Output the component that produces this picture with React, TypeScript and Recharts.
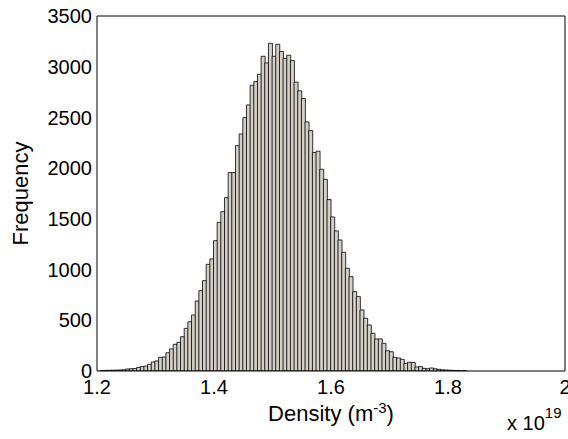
import { BarChart, Bar, XAxis, YAxis, Label } from "recharts";

// Histogram of density samples (x 1e19 m^-3), 100 bins as in MATLAB hist().
const DENSITY_MIN = 1.2051;
const BIN_WIDTH = 0.00626;

const COUNTS = [
  4, 6, 7, 8, 9, 10, 12, 20, 22, 24,
  35, 44, 48, 66, 89, 99, 135, 138, 180, 218,
  263, 283, 338, 421, 486, 552, 690, 792, 891, 1052,
  1105, 1285, 1466, 1571, 1709, 1956, 1956, 2222, 2337, 2498,
  2623, 2817, 2853, 2926, 3103, 3037, 3231, 3103, 3221, 3150,
  3083, 3113, 3060, 2848, 2762, 2686, 2456, 2370, 2153, 2167,
  1989, 1890, 1690, 1519, 1381, 1292, 1170, 1013, 930, 782,
  733, 602, 520, 454, 372, 316, 316, 273, 200, 190,
  135, 128, 115, 76, 86, 84, 40, 43, 26, 22,
  30, 22, 16, 12, 10, 8, 6, 5, 2, 4,
];

const X_TICKS = [1.2, 1.4, 1.6, 1.8, 2];
const Y_TICKS = [0, 500, 1000, 1500, 2000, 2500, 3000, 3500];

const FONT = "Arial, 'Liberation Sans', Helvetica, sans-serif";

const data = COUNTS.map((count, i) => ({
  density: DENSITY_MIN + BIN_WIDTH * (i + 0.5),
  count,
}));

function XLabel({ viewBox }: any) {
  const { x, y, width } = viewBox;
  return (
    <g fontFamily={FONT} fill="#000">
      <text x={x + width / 2} y={y + 50} textAnchor="middle" fontSize={22}>
        Density (m
        <tspan dy={-8} fontSize={15}>-3</tspan>
        <tspan dy={8}>)</tspan>
      </text>
      <text x={x + 410} y={y + 59} fontSize={20}>
        x 10
        <tspan dy={-12} fontSize={15}>19</tspan>
      </text>
    </g>
  );
}

function YLabel({ viewBox }: any) {
  const { x, y, height } = viewBox;
  const cx = x + 28;
  const cy = y + height / 2;
  return (
    <text
      x={cx}
      y={cy}
      transform={`rotate(-90 ${cx} ${cy})`}
      textAnchor="middle"
      fontSize={22}
      fontFamily={FONT}
      fill="#000"
    >
      Frequency
    </text>
  );
}

const tickStyle = { fontSize: 20, fontFamily: FONT, fill: "#000" };

export default function App() {
  return (
    <div style={{ position: "absolute", left: 0, top: 0, width: 568, height: 439, background: "#fff" }}>
      <BarChart
        width={568}
        height={439}
        data={data}
        margin={{ top: 16, right: 3, bottom: 0, left: 0 }}
        barCategoryGap={0}
        barGap={0}
      >
        <XAxis
          dataKey="density"
          type="number"
          domain={[1.2, 2]}
          ticks={X_TICKS}
          allowDataOverflow
          height={68}
          tickSize={0}
          tickMargin={9}
          tickLine={false}
          axisLine={{ stroke: "#000" }}
          tick={tickStyle}
          interval={0}
        >
          <Label content={<XLabel />} />
        </XAxis>
        <XAxis
          xAxisId="inB"
          dataKey="density"
          type="number"
          domain={[1.2, 2]}
          ticks={X_TICKS}
          allowDataOverflow
          height={1}
          mirror
          tick={false}
          tickSize={5}
          tickLine={{ stroke: "#000" }}
          axisLine={false}
          interval={0}
        />
        <XAxis
          xAxisId="top"
          orientation="top"
          dataKey="density"
          type="number"
          domain={[1.2, 2]}
          ticks={X_TICKS}
          allowDataOverflow
          height={1}
          mirror
          tick={false}
          tickSize={5}
          tickLine={{ stroke: "#000" }}
          axisLine={{ stroke: "#000" }}
          interval={0}
        />
        <YAxis
          domain={[0, 3500]}
          ticks={Y_TICKS}
          allowDataOverflow
          width={97}
          tickSize={0}
          tickMargin={5}
          tickLine={false}
          axisLine={{ stroke: "#000" }}
          tick={tickStyle}
          interval={0}
        >
          <Label content={<YLabel />} />
        </YAxis>
        <YAxis
          yAxisId="inL"
          domain={[0, 3500]}
          ticks={Y_TICKS}
          allowDataOverflow
          width={1}
          mirror
          tick={false}
          tickSize={5}
          tickLine={{ stroke: "#000" }}
          axisLine={false}
          interval={0}
        />
        <YAxis
          yAxisId="right"
          orientation="right"
          domain={[0, 3500]}
          ticks={Y_TICKS}
          allowDataOverflow
          width={1}
          mirror
          tick={false}
          tickSize={5}
          tickLine={{ stroke: "#000" }}
          axisLine={{ stroke: "#000" }}
          interval={0}
        />
        <Bar
          dataKey="count"
          fill="#d4d0c8"
          stroke="#000"
          strokeWidth={0.8}
          isAnimationActive={false}
        />
      </BarChart>
    </div>
  );
}
